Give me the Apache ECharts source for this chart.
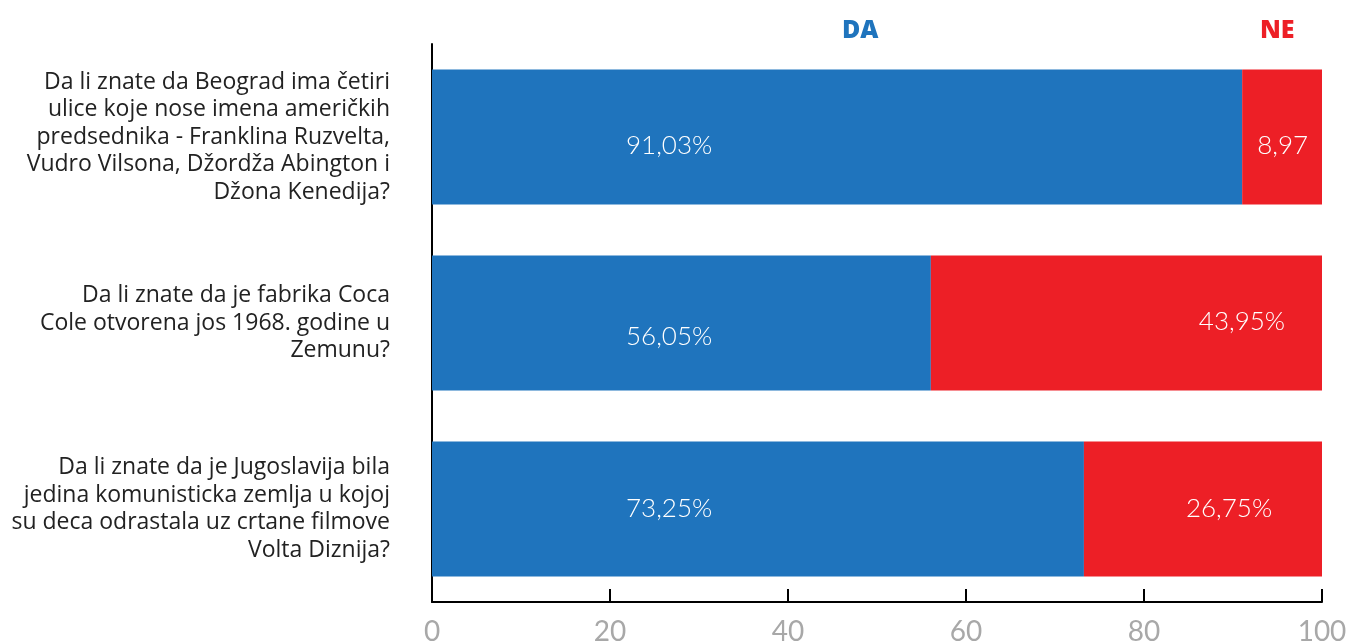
<!DOCTYPE html>
<html>
<head>
<meta charset="utf-8">
<script src="https://cdn.jsdelivr.net/npm/echarts@6/dist/echarts.min.js"></script>
<style>
  html, body { margin: 0; padding: 0; background: #fff; }
  #chart { width: 1352px; height: 643px; }
</style>
</head>
<body>
<div id="chart"></div>
<script>
// pitanja
const questions = [
    'Da li znate da Beograd ima četiri\nulice koje nose imena američkih\npredsednika - Franklina Ruzvelta,\nVudro Vilsona, Džordža Abington i\nDžona Kenedija?',
    'Da li znate da je fabrika Coca\nCole otvorena jos 1968. godine u\nZemunu?',
    'Da li znate da je Jugoslavija bila\njedina komunisticka zemlja u kojoj\nsu deca odrastala uz crtane filmove\nVolta Diznija?'
];
// odgovori
const daValues = [91.03, 56.05, 73.25];
const neValues = [8.97, 43.95, 26.75];
const daLabels = ['91,03%', '56,05%', '73,25%'];
const neLabels = ['8,97', '43,95%', '26,75%'];
const xTicks = [0, 20, 40, 60, 80, 100];

// pomeranje natpisa (kao na slici)
const daLabelDy = [9, 14, 0];
const neLabelDist = [15, 268, 102];
const neLabelDy = [9, -1, 0];

const blue = '#1f74bd';
const red = '#ed1f26';

const chart = echarts.init(document.getElementById('chart'));

chart.setOption({
    animation: false,
    legend: [
        { data: ['DA'], left: 832, top: 13, icon: 'none', itemWidth: 0, itemGap: 0, selectedMode: false,
          textStyle: { color: blue, fontSize: 25, fontWeight: 800, fontFamily: 'Open Sans' } },
        { data: ['NE'], left: 1250, top: 13, icon: 'none', itemWidth: 0, itemGap: 0, selectedMode: false,
          textStyle: { color: red, fontSize: 25, fontWeight: 800, fontFamily: 'Open Sans' } }
    ],
    grid: { left: 432, right: 30, top: 44, bottom: 41, containLabel: false, outerBoundsMode: 'none' },
    xAxis: {
        type: 'value',
        min: 0,
        max: 100,
        interval: 20,
        axisLine: { show: true, lineStyle: { color: '#000', width: 2 } },
        axisTick: { show: true, inside: true, length: 13, lineStyle: { color: '#000', width: 2 } },
        splitLine: { show: false },
        axisLabel: {
            margin: 16,
            color: '#a8a8a8',
            fontSize: 28,
            fontFamily: 'Lato',
            formatter: v => xTicks.includes(v) ? String(v) : ''
        }
    },
    yAxis: {
        type: 'category',
        inverse: true,
        data: questions,
        axisLine: { show: true, lineStyle: { color: '#000', width: 2 } },
        axisTick: { show: false },
        axisLabel: {
            margin: 42,
            color: '#222',
            fontSize: 23,
            lineHeight: 27.5,
            align: 'right',
            fontFamily: 'Open Sans'
        }
    },
    series: [
        {
            name: 'DA',
            type: 'bar',
            stack: 'total',
            barCategoryGap: '27.4%',
            itemStyle: { color: blue },
            data: daValues.map((v, i) => ({
                value: v,
                label: {
                    show: true,
                    position: 'insideLeft',
                    distance: 194,
                    offset: [0, daLabelDy[i]],
                    formatter: daLabels[i]
                }
            })),
            label: { color: '#fff', fontSize: 26, fontWeight: 300, fontFamily: 'Lato' }
        },
        {
            name: 'NE',
            type: 'bar',
            stack: 'total',
            itemStyle: { color: red },
            data: neValues.map((v, i) => ({
                value: v,
                label: {
                    show: true,
                    position: 'insideLeft',
                    distance: neLabelDist[i],
                    offset: [0, neLabelDy[i]],
                    formatter: neLabels[i]
                }
            })),
            label: { color: '#fff', fontSize: 26, fontWeight: 300, fontFamily: 'Lato' }
        }
    ]
});
</script>
</body>
</html>
